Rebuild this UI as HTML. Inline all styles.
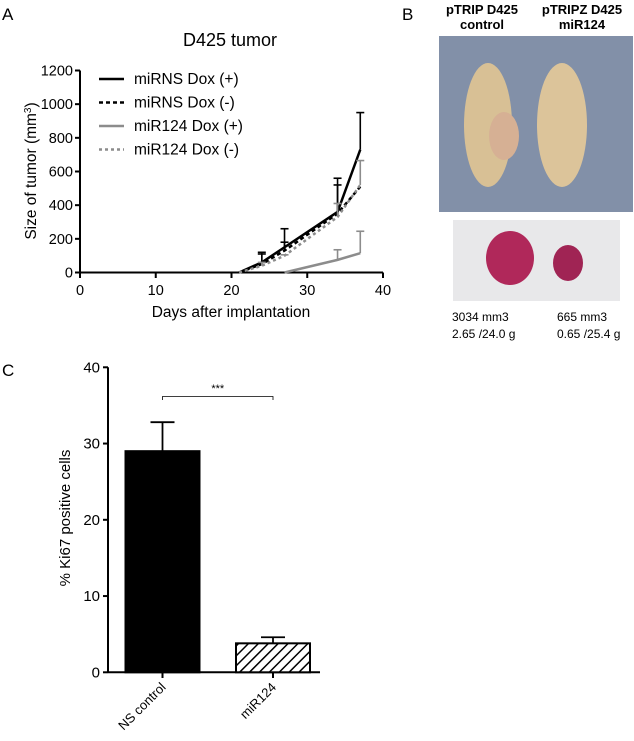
<!DOCTYPE html>
<html><head><meta charset="utf-8"><style>
body{margin:0;background:#fff;width:634px;height:741px;overflow:hidden;font-family:"Liberation Sans",Arial,sans-serif}
svg{position:absolute;left:0;top:0}
</style></head><body>
<svg width="634" height="741" viewBox="0 0 634 741" font-family="Liberation Sans, Arial, sans-serif">
<text x="2" y="20" font-size="17">A</text>
<text x="402" y="20" font-size="17">B</text>
<text x="2" y="376" font-size="17">C</text>
<text x="230" y="46" font-size="18" text-anchor="middle">D425 tumor</text>
<g id="chartA"></g>
<g id="chartC"></g>
<g>
<text x="482" y="14" font-size="13" font-weight="bold" text-anchor="middle">pTRIP D425</text>
<text x="482" y="29" font-size="13" font-weight="bold" text-anchor="middle">control</text>
<text x="582" y="14" font-size="13" font-weight="bold" text-anchor="middle">pTRIPZ D425</text>
<text x="582" y="29" font-size="13" font-weight="bold" text-anchor="middle">miR124</text>
<rect x="439" y="36" width="194" height="176" fill="#8290a8"/>
<ellipse cx="488" cy="125" rx="24" ry="62" fill="#d8c095"/>
<ellipse cx="504" cy="136" rx="15" ry="24" fill="#d6b094"/>
<ellipse cx="562" cy="125" rx="25" ry="62" fill="#dcc49a"/>
<rect x="453" y="220" width="167" height="81" fill="#e8e8ea"/>
<ellipse cx="510" cy="258" rx="24" ry="27" fill="#b0285a"/>
<ellipse cx="568" cy="263" rx="15" ry="18" fill="#a02454"/>
<text x="452" y="321" font-size="12">3034 mm3</text>
<text x="452" y="338" font-size="12">2.65 /24.0 g</text>
<text x="557" y="321" font-size="12">665 mm3</text>
<text x="557" y="338" font-size="12">0.65 /25.4 g</text>
</g>
</svg>
<script>
const NS='http://www.w3.org/2000/svg';
// Chart A data
const aXTicks=[0,10,20,30,40];
const aYTicks=[0,200,400,600,800,1000,1200];
const s1Days=[21,24,27,34,37], s1Vals=[0,60,150,360,730], s1Err=[0,120,260,560,950];
const s2Days=[21,24,27,34,37], s2Vals=[0,50,130,350,510], s2Err=[0,110,180,520,510];
const s3Days=[27,34,37], s3Vals=[0,75,115], s3Err=[0,135,245];
const s4Days=[21,24,27,34,37], s4Vals=[0,40,100,330,520], s4Err=[0,60,105,410,665];
const seriesNames=['miRNS Dox (+)','miRNS Dox (-)','miR124 Dox (+)','miR124 Dox (-)'];
// Chart C data
const cCats=['NS control','miR124'];
const cVals=[29,3.8];
const cErr=[32.8,4.6];
const cYTicks=[0,10,20,30,40];

function el(p,tag,attrs,txt){const e=document.createElementNS(NS,tag);for(const k in attrs)e.setAttribute(k,attrs[k]);if(txt!==undefined)e.textContent=txt;p.appendChild(e);return e;}
const A=document.getElementById('chartA');
const ax=d=>80+d*(303/40), ay=v=>272.5-v*(202/1200);
let e=el(A,'line',{x1:80,y1:ay(1200),x2:80,y2:272.5,stroke:'#000','stroke-width':2});

e=el(A,'line',{x1:80,y1:272.5,x2:ax(40),y2:272.5,stroke:'#000','stroke-width':2});

aYTicks.forEach(t=>{el(A,'line',{x1:75,x2:80,y1:ay(t),y2:ay(t),stroke:'#000','stroke-width':2});
 const tx=el(A,'text',{x:73,y:ay(t)+5,'font-size':14.5,'text-anchor':'end'},t);
 });
aXTicks.forEach(t=>{el(A,'line',{x1:ax(t),x2:ax(t),y1:272.5,y2:278,stroke:'#000','stroke-width':2});
 const tx=el(A,'text',{x:ax(t),y:295,'font-size':14.5,'text-anchor':'middle'},t);
 });
e=el(A,'text',{x:231,y:317,'font-size':15.5,'text-anchor':'middle'},'Days after implantation');

e=el(A,'text',{x:0,y:0,'font-size':15.5,'text-anchor':'middle',transform:'translate(36,171) rotate(-90)'});
e.innerHTML='Size of tumor (mm<tspan dy="-5" font-size="10">3</tspan><tspan dy="5">)</tspan>';

const styles=[{c:'#000',d:''},{c:'#000',d:'4,3'},{c:'#8c8c8c',d:''},{c:'#8c8c8c',d:'3,3'}];
const sd=[[s1Days,s1Vals,s1Err],[s2Days,s2Vals,s2Err],[s3Days,s3Vals,s3Err],[s4Days,s4Vals,s4Err]];
sd.forEach((s,i)=>{
 const g=el(A,'g',{});
 
 s[0].forEach((d,j)=>{if(s[2][j]>s[1][j]){
  el(g,'line',{x1:ax(d),x2:ax(d),y1:ay(s[1][j]),y2:ay(s[2][j]),stroke:styles[i].c,'stroke-width':1.6});
  el(g,'line',{x1:ax(d)-4,x2:ax(d)+4,y1:ay(s[2][j]),y2:ay(s[2][j]),stroke:styles[i].c,'stroke-width':1.6});}});
 const pts=s[0].map((d,j)=>ax(d)+','+ay(s[1][j])).join(' ');
 el(g,'polyline',{points:pts,fill:'none',stroke:styles[i].c,'stroke-width':2.5,'stroke-dasharray':styles[i].d});
 const ly=79+i*23.5;
 const lg=el(A,'g',{});
 
 el(lg,'line',{x1:99,x2:124,y1:ly,y2:ly,stroke:styles[i].c,'stroke-width':2.5,'stroke-dasharray':styles[i].d});
 el(lg,'text',{x:134,y:ly+5,'font-size':15.5},seriesNames[i]);
});
// Chart C
const C=document.getElementById('chartC');
const cy=v=>672.3-v*7.625;
const cx=i=>162.5+i*110.5;
const defs=el(C,'defs',{});
const pat=el(defs,'pattern',{id:'hatch',width:7,height:7,patternUnits:'userSpaceOnUse',patternTransform:'rotate(45)'});
el(pat,'rect',{width:7,height:7,fill:'#fff'});
el(pat,'line',{x1:0,y1:0,x2:0,y2:7,stroke:'#000','stroke-width':3});
e=el(C,'line',{x1:108,y1:cy(40),x2:108,y2:672.3,stroke:'#000','stroke-width':2});

e=el(C,'line',{x1:108,y1:672.3,x2:320,y2:672.3,stroke:'#000','stroke-width':2});

cYTicks.forEach(t=>{el(C,'line',{x1:103,x2:108,y1:cy(t),y2:cy(t),stroke:'#000','stroke-width':2});
 const tx=el(C,'text',{x:100,y:cy(t)+5,'font-size':15,'text-anchor':'end'},t);
 });
cCats.forEach((c,i)=>{
 const x=cx(i);
 el(C,'line',{x1:x,x2:x,y1:cy(cVals[i]),y2:cy(cErr[i]),stroke:'#000','stroke-width':1.8});
 el(C,'line',{x1:x-12,x2:x+12,y1:cy(cErr[i]),y2:cy(cErr[i]),stroke:'#000','stroke-width':1.8});
 const b=el(C,'rect',{x:x-37,y:cy(cVals[i]),width:74,height:672.3-cy(cVals[i]),fill:i?'url(#hatch)':'#000',stroke:'#000','stroke-width':2});
 
 el(C,'line',{x1:x,x2:x,y1:672.3,y2:678,stroke:'#000','stroke-width':2});
 const tx=el(C,'text',{x:0,y:0,'font-size':13,'text-anchor':'end',transform:`translate(${x+4},688) rotate(-45)`},c);
 
});
const br=el(C,'path',{d:`M${cx(0)} 400 V396.5 H${cx(1)} V400`,fill:'none',stroke:'#000','stroke-width':0.8});

e=el(C,'text',{x:(cx(0)+cx(1))/2,y:392,'font-size':11,'text-anchor':'middle'},'***');

e=el(C,'text',{x:0,y:0,'font-size':15,'text-anchor':'middle',transform:'translate(70,518) rotate(-90)'},'% Ki67  positive cells');

</script>
</body></html>
